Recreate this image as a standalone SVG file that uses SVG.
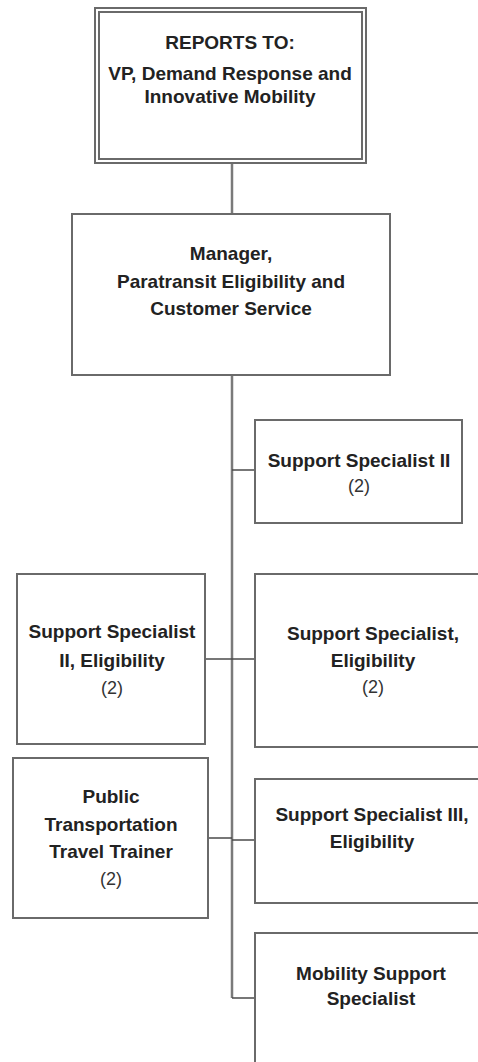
<svg xmlns="http://www.w3.org/2000/svg" width="478" height="1062" viewBox="0 0 478 1062">
  <style>
    .box { fill: #ffffff; stroke: #6a6a6a; stroke-width: 2; }
    .trunk { stroke: #7a7a7a; stroke-width: 2.5; fill: none; }
    .link { stroke: #4a4a4a; stroke-width: 1.5; fill: none; }
    .t { font-family: "Liberation Sans", Arial, sans-serif; font-size: 19px; font-weight: bold; fill: #222222; text-anchor: middle; }
    .n { font-family: "Liberation Sans", Arial, sans-serif; font-size: 18px; fill: #333333; text-anchor: middle; }
  </style>
  <rect width="478" height="1062" fill="#ffffff"/>

  <!-- connectors -->
  <g id="connectors">
    <line class="trunk" x1="232" y1="163" x2="232" y2="214"/>
    <line class="trunk" x1="232" y1="375" x2="232" y2="998"/>
    <line class="link" x1="232" y1="470" x2="255" y2="470"/>
    <line class="link" x1="205" y1="659" x2="255" y2="659"/>
    <line class="link" x1="208" y1="838" x2="232" y2="838"/>
    <line class="link" x1="232" y1="840" x2="255" y2="840"/>
    <line class="link" x1="232" y1="998" x2="255" y2="998"/>
  </g>

  <!-- reporting line, double border -->
  <g id="reports-to">
    <rect class="box" x="95" y="8" width="271" height="155"/>
    <rect class="box" x="99" y="12" width="263" height="147" stroke-width="1.5"/>
    <text class="t" x="230" y="49">REPORTS TO:</text>
    <text class="t" x="230" y="80" font-size="20">VP, Demand Response and</text>
    <text class="t" x="230" y="103" font-size="20">Innovative Mobility</text>
  </g>

  <g id="manager">
    <rect class="box" x="72" y="214" width="318" height="161"/>
    <text class="t" x="231" y="260">Manager,</text>
    <text class="t" x="231" y="288">Paratransit Eligibility and</text>
    <text class="t" x="231" y="315">Customer Service</text>
  </g>

  <g id="support-specialist-2">
    <rect class="box" x="255" y="420" width="207" height="103"/>
    <text class="t" x="359" y="467">Support Specialist II</text>
    <text class="n" x="359" y="492">(2)</text>
  </g>

  <g id="support-specialist-2-eligibility">
    <rect class="box" x="17" y="574" width="188" height="170"/>
    <text class="t" x="112" y="638">Support Specialist</text>
    <text class="t" x="112" y="667">II, Eligibility</text>
    <text class="n" x="112" y="694">(2)</text>
  </g>

  <g id="support-specialist-eligibility">
    <rect class="box" x="255" y="574" width="240" height="173"/>
    <text class="t" x="373" y="640">Support Specialist,</text>
    <text class="t" x="373" y="667">Eligibility</text>
    <text class="n" x="373" y="693">(2)</text>
  </g>

  <g id="travel-trainer">
    <rect class="box" x="13" y="758" width="195" height="160"/>
    <text class="t" x="111" y="803">Public</text>
    <text class="t" x="111" y="831">Transportation</text>
    <text class="t" x="111" y="858">Travel Trainer</text>
    <text class="n" x="111" y="885">(2)</text>
  </g>

  <g id="support-specialist-3-eligibility">
    <rect class="box" x="255" y="779" width="240" height="124"/>
    <text class="t" x="372" y="821">Support Specialist III,</text>
    <text class="t" x="372" y="848">Eligibility</text>
  </g>

  <g id="mobility-support-specialist">
    <rect class="box" x="255" y="933" width="240" height="140"/>
    <text class="t" x="371" y="980">Mobility Support</text>
    <text class="t" x="371" y="1005">Specialist</text>
  </g>
</svg>
